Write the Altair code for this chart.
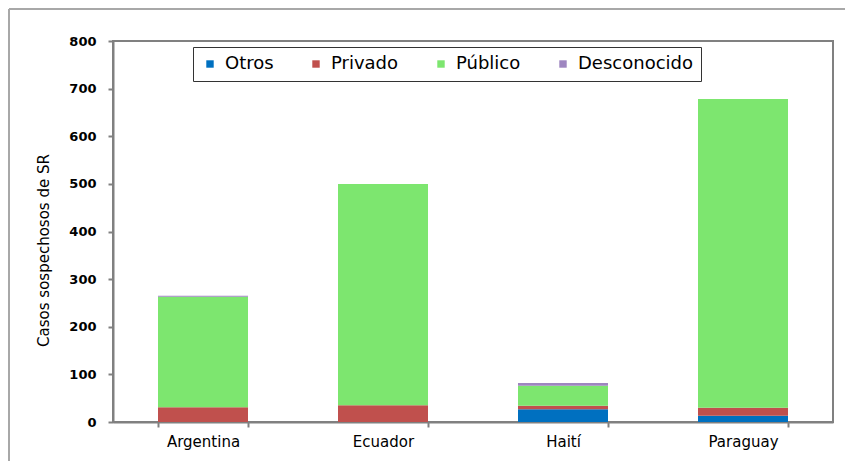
import altair as alt
import pandas as pd

countries = ["Argentina", "Ecuador", "Haití", "Paraguay"]
series = ["Otros", "Privado", "Público", "Desconocido"]
otros = [0, 0, 27, 13]
privado = [31, 35, 7, 17]
publico = [232, 465, 42, 648]
desconocido = [2, 0, 6, 0]
colors = ["#0070C0", "#C0504D", "#7DE66F", "#9E86C0"]

rows = []
for vals, s in zip([otros, privado, publico, desconocido], series):
    for c, v in zip(countries, vals):
        rows.append({"País": c, "Tipo": s, "Casos": v, "orden": series.index(s)})
df = pd.DataFrame(rows)

W, H = 720, 381
FONT = "DejaVu Sans"

bars = alt.Chart(df).mark_bar().encode(
    x=alt.X("País:N", sort=countries, title=None,
            scale=alt.Scale(paddingInner=0.5, paddingOuter=0.25),
            axis=alt.Axis(labelAngle=0, tickBand="extent", labelFontSize=15,
                          labelFont=FONT, labelColor="#000000",
                          domainColor="#808080", domainWidth=2, tickColor="#808080",
                          tickWidth=2, tickSize=5, labelPadding=7)),
    y=alt.Y("Casos:Q", stack="zero", title="Casos sospechosos de SR",
            scale=alt.Scale(domain=[0, 800]),
            axis=alt.Axis(values=list(range(0, 801, 100)), grid=False, labelFontSize=13,
                          labelFontWeight="bold", labelFont=FONT,
                          labelColor="#000000", domainColor="#808080", domainWidth=2,
                          tickColor="#808080", tickWidth=2, tickSize=5, labelPadding=12,
                          titleFont=FONT, titleFontSize=15, titleAngle=270,
                          titleX=-70, titleY=209, titleAlign="center", titleBaseline="middle",
                          titleFontWeight="normal", titleColor="#000000")),
    color=alt.Color("Tipo:N", sort=series,
                    scale=alt.Scale(domain=series, range=colors),
                    legend=alt.Legend(title=None, orient="none", direction="horizontal",
                                      legendX=80, legendY=6, symbolType="square",
                                      symbolSize=55, symbolStrokeWidth=0,
                                      labelFontSize=18, labelFont=FONT,
                                      labelColor="#000000", columnPadding=33,
                                      labelOffset=6, strokeColor="#333333",
                                      padding=8, cornerRadius=0, fillColor="white")),
    order=alt.Order("orden:Q"),
)

border = alt.Chart(pd.DataFrame({"a": [0]})).mark_rule(color="#A8A8A8", strokeWidth=2).encode(
    x=alt.value(-104), x2=alt.value(W + 20), y=alt.value(-32)
)
border2 = alt.Chart(pd.DataFrame({"a": [0]})).mark_rule(color="#A8A8A8", strokeWidth=2).encode(
    x=alt.value(-104), y=alt.value(-32), y2=alt.value(H + 50)
)

chart = alt.layer(bars, border, border2).properties(
    width=W, height=H,
    autosize=alt.AutoSizeParams(type="none"),
    padding={"left": 105, "top": 33, "right": 12, "bottom": 39},
).configure_view(stroke="#808080", strokeWidth=2)

chart.save("out.html", embed_options={"renderer": "svg", "actions": False})
